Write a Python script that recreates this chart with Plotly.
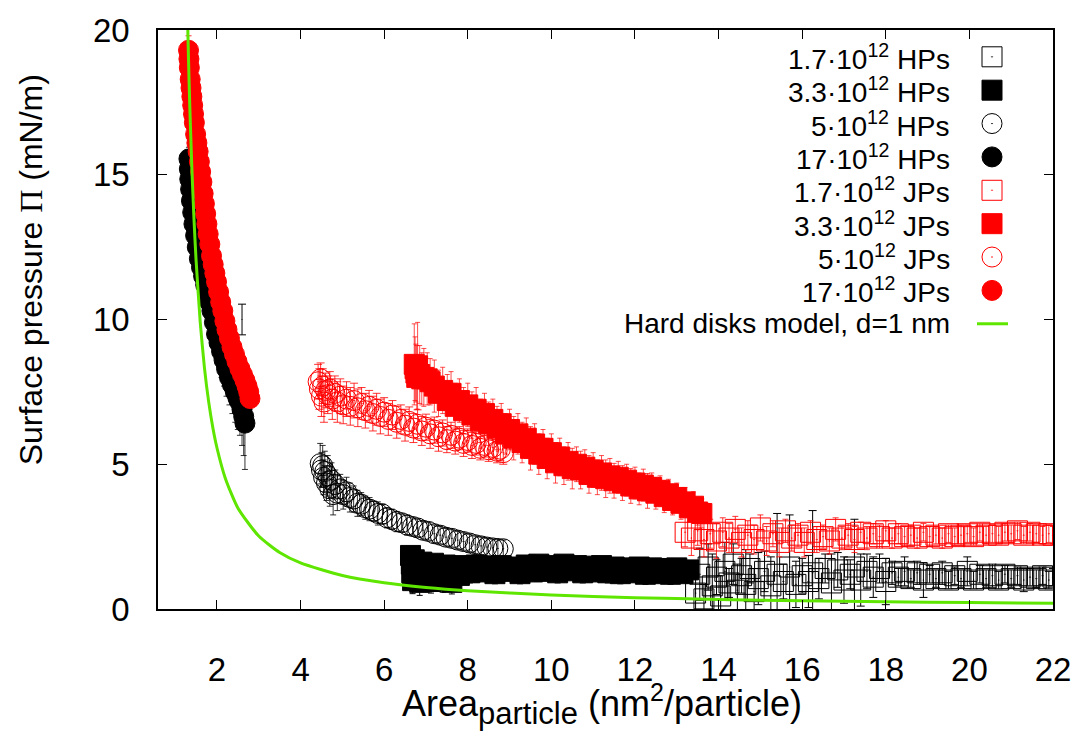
import plotly.graph_objects as go

# ---------------- data (area per particle in nm^2, surface pressure in mN/m) ----------------
# 1.7e12 HPs
hp1_x = [13.45, 13.55, 13.65, 13.75, 13.85, 13.95, 14.05, 14.15, 14.25, 14.35, 14.45, 14.55,
         14.65, 14.75, 14.85, 14.95, 15.10, 15.25, 15.40, 15.55, 15.70, 15.85, 16.00, 16.15,
         16.25, 16.40, 16.55, 16.70, 16.85, 17.00, 17.15, 17.25, 17.40, 17.55, 17.70, 17.85,
         18.00, 18.15, 18.30, 18.45, 18.60, 18.75, 18.90, 19.05, 19.20, 19.35, 19.50, 19.65,
         19.80, 19.95, 20.10, 20.25, 20.40, 20.55, 20.70, 20.85, 21.00, 21.15, 21.30, 21.45,
         21.60, 21.75, 21.90, 22.00]
hp1_y = [0.55, 1.20, 0.35, 1.45, 0.80, 1.10, 0.45, 1.30, 0.90, 1.55, 0.65, 1.15,
         0.85, 1.40, 0.60, 1.05, 1.30, 0.80, 1.20, 0.95, 1.45, 0.85, 1.15, 0.95,
         1.25, 1.05, 1.40, 0.90, 1.35, 1.00, 1.20, 1.45, 1.00, 1.30, 1.10, 1.40,
         0.95, 1.25, 1.10, 1.30, 1.05, 1.25, 1.00, 1.20, 1.05, 1.25, 1.00, 1.15,
         1.05, 1.30, 1.00, 1.20, 1.05, 1.15, 1.00, 1.20, 1.05, 1.15, 1.00, 1.10,
         1.05, 1.15, 1.00, 1.10]
hp1_e = [0.6, 0.9, 0.5, 0.8, 1.1, 0.6, 0.7, 1.0, 0.5, 0.7, 0.9, 0.6,
         1.2, 0.5, 0.8, 0.9, 0.7, 1.0, 2.1, 0.6, 1.8, 0.8, 0.6, 0.9,
         2.15, 0.7, 0.5, 1.0, 0.6, 0.8, 0.5, 1.65, 0.9, 0.6, 0.7, 0.5,
         0.8, 0.4, 0.3, 0.5, 0.3, 0.4, 0.6, 0.3, 0.3, 0.4, 0.3, 0.3,
         0.3, 0.5, 0.3, 0.3, 0.3, 0.4, 0.3, 0.3, 0.3, 0.3, 0.4, 0.3,
         0.3, 0.3, 0.3, 0.3]

# 3.3e12 HPs
hp3_x = [6.63, 6.65, 6.66, 6.68, 6.72, 6.76, 6.80, 6.85, 6.90, 6.95, 7.00, 7.06,
         7.12, 7.18, 7.25, 7.32, 7.40, 7.46, 7.54, 7.62, 7.70, 7.80,
         7.90, 8.05, 8.20, 8.35, 8.50, 8.65, 8.80, 8.95, 9.10, 9.25, 9.40, 9.55,
         9.70, 9.85, 10.00, 10.15, 10.30, 10.45, 10.60, 10.75, 10.90, 11.05, 11.20, 11.35,
         11.50, 11.65, 11.80, 11.95, 12.10, 12.25, 12.40, 12.55, 12.70, 12.85, 13.00, 13.15,
         13.28]
hp3_y = [1.85, 1.55, 1.25, 0.98, 1.70, 1.40, 1.10, 0.92, 1.62, 1.30, 1.00, 1.50,
         0.95, 1.58, 1.12, 1.42, 0.98, 1.52, 1.18, 0.92, 1.46, 1.16,
         1.50, 1.25, 1.52, 1.28, 1.48, 1.22, 1.50, 1.30, 1.45, 1.22, 1.52, 1.28,
         1.55, 1.30, 1.50, 1.25, 1.55, 1.32, 1.50, 1.25, 1.48, 1.28, 1.50, 1.25,
         1.45, 1.22, 1.42, 1.25, 1.45, 1.20, 1.42, 1.22, 1.40, 1.20, 1.42, 1.22,
         1.35]
hp3_e = [0.3, 0.3, 0.35, 0.45, 0.3, 0.3, 0.35, 0.45, 0.3, 0.3, 0.4, 0.3,
         0.4, 0.3, 0.35, 0.3, 0.4, 0.3, 0.35, 0.4, 0.3, 0.35,
         0.3, 0.35, 0.3, 0.3, 0.3, 0.35, 0.3, 0.3, 0.3, 0.35, 0.3, 0.3,
         0.3, 0.3, 0.3, 0.35, 0.3, 0.3, 0.3, 0.35, 0.3, 0.3, 0.3, 0.35,
         0.3, 0.35, 0.3, 0.3, 0.3, 0.35, 0.3, 0.3, 0.3, 0.35, 0.3, 0.3,
         0.3]

# 5e12 HPs
hp5_x = [4.47, 4.50, 4.53, 4.55, 4.58, 4.62, 4.65, 4.70, 4.74, 4.78, 4.83, 4.88,
         4.95, 5.02, 5.10, 5.18, 5.27, 5.36, 5.45, 5.55, 5.65, 5.75, 5.85, 5.96,
         6.07, 6.18, 6.30, 6.42, 6.55, 6.68, 6.80, 6.93, 7.06, 7.20, 7.34, 7.48,
         7.62, 7.76, 7.90, 8.04, 8.18, 8.32, 8.46, 8.60, 8.72, 8.85]
hp5_y = [5.02, 4.80, 4.95, 4.55, 4.75, 4.35, 4.60, 4.15, 4.45, 3.95, 4.30, 4.00,
         4.15, 3.95, 4.05, 3.85, 3.80, 3.65, 3.62, 3.50, 3.45, 3.38, 3.30, 3.28,
         3.15, 3.10, 3.02, 2.98, 2.90, 2.85, 2.80, 2.72, 2.68, 2.60, 2.55, 2.48,
         2.44, 2.38, 2.33, 2.28, 2.22, 2.18, 2.14, 2.11, 2.09, 2.08]
hp5_e = [0.7, 0.6, 0.7, 0.6, 0.7, 0.6, 0.7, 0.6, 0.6, 0.7, 0.5, 0.6,
         0.5, 0.5, 0.5, 0.5, 0.45, 0.45, 0.4, 0.4, 0.4, 0.35, 0.4, 0.35,
         0.35, 0.35, 0.35, 0.3, 0.35, 0.3, 0.3, 0.3, 0.3, 0.3, 0.3, 0.3,
         0.3, 0.3, 0.3, 0.3, 0.3, 0.3, 0.3, 0.3, 0.3, 0.3]

# 17e12 HPs
hp17_x = [1.33, 1.34, 1.35, 1.37, 1.39, 1.42, 1.45, 1.49, 1.53, 1.58, 1.63, 1.68,
          1.73, 1.78, 1.83, 1.88, 1.94, 1.99, 2.05, 2.11, 2.17, 2.23, 2.30, 2.37,
          2.44, 2.50, 2.55, 2.60, 2.64, 2.67]
hp17_y = [15.55, 15.20, 14.85, 14.50, 14.10, 13.70, 13.30, 12.90, 12.50, 12.10, 11.80, 11.50,
          11.20, 10.90, 10.60, 10.30, 9.90, 9.50, 9.20, 8.90, 8.60, 8.30, 8.00, 7.75,
          7.50, 7.30, 7.15, 6.90, 6.65, 6.42]
hp17_e = [0.4, 0.4, 0.45, 0.45, 0.5, 0.5, 0.55, 0.6, 0.6, 0.65, 0.65, 0.7,
          0.7, 0.75, 0.75, 0.8, 0.8, 0.85, 0.85, 0.9, 0.9, 0.95, 0.95, 1.0,
          1.05, 1.1, 1.15, 1.25, 1.35, 1.6]
hp17_bar_x = [2.60]
hp17_bar_y = [10.00]
hp17_bar_e = [0.53]

# 1.7e12 JPs
jp1_x = [13.20, 13.35, 13.50, 13.65, 13.80, 13.95, 14.10, 14.25, 14.40, 14.55, 14.70, 14.85,
         15.00, 15.15, 15.30, 15.45, 15.60, 15.75, 15.90, 16.05, 16.20, 16.35, 16.50, 16.65,
         16.80, 16.95, 17.10, 17.25, 17.40, 17.55, 17.70, 17.85, 18.00, 18.15, 18.30, 18.45,
         18.60, 18.75, 18.90, 19.05, 19.20, 19.35, 19.50, 19.65, 19.80, 19.95, 20.10, 20.25,
         20.40, 20.55, 20.70, 20.85, 21.00, 21.15, 21.30, 21.45, 21.60, 21.75, 21.90, 22.00]
jp1_y = [2.65, 2.45, 2.70, 2.40, 2.60, 2.35, 2.65, 2.45, 2.75, 2.30, 2.55, 2.40,
         2.80, 2.35, 2.60, 2.30, 2.70, 2.45, 2.55, 2.30, 2.65, 2.40, 2.50, 2.35,
         2.75, 2.45, 2.55, 2.40, 2.65, 2.45, 2.60, 2.50, 2.70, 2.45, 2.60, 2.50,
         2.55, 2.45, 2.65, 2.50, 2.55, 2.45, 2.60, 2.50, 2.55, 2.60, 2.50, 2.65,
         2.55, 2.60, 2.55, 2.65, 2.60, 2.70, 2.55, 2.65, 2.60, 2.55, 2.60, 2.55]
jp1_e = [0.5, 0.6, 0.5, 0.6, 0.5, 0.6, 0.5, 0.5, 0.45, 0.5, 0.5, 0.5,
         0.45, 0.5, 0.45, 0.5, 0.4, 0.45, 0.4, 0.5, 0.4, 0.45, 0.4, 0.45,
         0.4, 0.4, 0.4, 0.45, 0.35, 0.4, 0.35, 0.4, 0.35, 0.35, 0.35, 0.35,
         0.35, 0.35, 0.3, 0.35, 0.3, 0.35, 0.3, 0.3, 0.35, 0.3, 0.3, 0.3,
         0.3, 0.3, 0.3, 0.3, 0.3, 0.3, 0.3, 0.3, 0.3, 0.3, 0.3, 0.3]

# 3.3e12 JPs
jp3_x = [6.72, 6.74, 6.76, 6.78, 6.80, 6.85, 6.90, 6.95, 7.03, 7.10, 7.20, 7.30,
         7.40, 7.51, 7.60, 7.70, 7.80, 7.90, 8.00, 8.10, 8.20, 8.30, 8.40, 8.50,
         8.60, 8.70, 8.80, 8.90, 9.00, 9.10, 9.20, 9.30, 9.40, 9.50, 9.60, 9.70,
         9.80, 9.90, 10.00, 10.10, 10.20, 10.30, 10.40, 10.50, 10.60, 10.70, 10.80, 10.90,
         11.00, 11.10, 11.20, 11.30, 11.40, 11.50, 11.60, 11.70, 11.80, 11.90, 12.00, 12.10,
         12.20, 12.30, 12.40, 12.50, 12.60, 12.70, 12.80, 12.90, 13.00, 13.10, 13.20, 13.30,
         13.40, 13.50, 13.60]
jp3_y = [8.45, 8.30, 8.15, 8.00, 8.40, 8.10, 7.95, 8.00, 7.95, 7.85, 7.70, 7.45,
         7.55, 7.20, 7.45, 7.00, 7.20, 6.85, 7.05, 6.70, 6.90, 6.50, 6.75, 6.40,
         6.55, 6.25, 6.40, 6.05, 6.20, 5.90, 6.05, 5.75, 5.90, 5.55, 5.70, 5.35,
         5.55, 5.20, 5.40, 5.05, 5.25, 4.95, 5.10, 4.85, 5.00, 4.80, 4.90, 4.65,
         4.80, 4.55, 4.70, 4.50, 4.60, 4.43, 4.55, 4.35, 4.45, 4.25, 4.35, 4.15,
         4.28, 4.08, 4.20, 4.00, 4.10, 3.88, 3.98, 3.75, 3.85, 3.65, 3.70, 3.50,
         3.55, 3.35, 3.30]
jp3_e = [1.4, 1.1, 1.0, 1.1, 1.5, 1.0, 0.9, 1.0, 0.9, 0.8, 0.9, 0.8,
         0.8, 0.9, 0.75, 0.8, 0.75, 0.8, 0.75, 0.8, 0.75, 0.75, 0.7, 0.75,
         0.7, 0.75, 0.7, 0.7, 0.7, 0.75, 0.7, 0.7, 0.7, 0.75, 0.7, 0.7,
         0.65, 0.7, 0.65, 0.7, 0.65, 0.65, 0.65, 0.7, 0.6, 0.65, 0.6, 0.65,
         0.6, 0.6, 0.6, 0.65, 0.6, 0.6, 0.55, 0.6, 0.55, 0.6, 0.55, 0.55,
         0.55, 0.6, 0.5, 0.55, 0.5, 0.55, 0.5, 0.5, 0.5, 0.55, 0.5, 0.5,
         0.5, 0.45, 0.5]

# 5e12 JPs
jp5_x = [4.42, 4.45, 4.48, 4.50, 4.53, 4.56, 4.60, 4.65, 4.70, 4.76, 4.82, 4.88,
         4.95, 5.02, 5.10, 5.19, 5.28, 5.37, 5.46, 5.55, 5.64, 5.73, 5.82, 5.91,
         6.00, 6.10, 6.20, 6.30, 6.40, 6.50, 6.60, 6.70, 6.80, 6.90, 7.00, 7.10,
         7.20, 7.30, 7.40, 7.50, 7.60, 7.70, 7.80, 7.90, 8.00, 8.10, 8.20, 8.30,
         8.40, 8.50, 8.60, 8.70, 8.78, 8.85]
jp5_y = [7.85, 7.60, 7.95, 7.35, 7.70, 7.15, 7.55, 7.40, 7.60, 7.25, 7.45, 7.15,
         7.35, 7.05, 7.25, 7.00, 7.20, 6.95, 7.10, 6.85, 7.00, 6.75, 6.90, 6.65,
         6.80, 6.55, 6.70, 6.45, 6.55, 6.35, 6.48, 6.25, 6.38, 6.15, 6.28, 6.05,
         6.18, 5.95, 6.08, 5.85, 6.00, 5.80, 5.90, 5.72, 5.82, 5.65, 5.72, 5.55,
         5.65, 5.50, 5.58, 5.45, 5.52, 5.40]
jp5_e = [0.6, 0.7, 0.55, 0.7, 0.6, 0.7, 0.6, 0.65, 0.6, 0.7, 0.6, 0.7,
         0.6, 0.65, 0.6, 0.65, 0.6, 0.65, 0.55, 0.6, 0.55, 0.6, 0.55, 0.6,
         0.5, 0.55, 0.5, 0.55, 0.5, 0.55, 0.5, 0.5, 0.5, 0.5, 0.45, 0.5,
         0.45, 0.5, 0.45, 0.45, 0.45, 0.45, 0.4, 0.45, 0.4, 0.45, 0.4, 0.4,
         0.4, 0.4, 0.4, 0.4, 0.4, 0.4]

# 17e12 JPs
jp17_x = [1.32, 1.33, 1.34, 1.36, 1.38, 1.40, 1.42, 1.44, 1.46, 1.49, 1.52, 1.55,
          1.58, 1.61, 1.64, 1.67, 1.70, 1.73, 1.76, 1.79, 1.83, 1.87, 1.91, 1.95,
          1.99, 2.04, 2.09, 2.14, 2.19, 2.24, 2.30, 2.36, 2.42, 2.48, 2.55, 2.61,
          2.67, 2.72, 2.76, 2.79]
jp17_y = [19.30, 19.00, 18.70, 18.30, 18.00, 17.70, 17.40, 17.10, 16.80, 16.40, 16.10, 15.80,
          15.45, 15.10, 14.75, 14.35, 14.00, 13.65, 13.30, 12.95, 12.60, 12.20, 11.90, 11.60,
          11.30, 10.95, 10.60, 10.30, 9.95, 9.65, 9.35, 9.05, 8.80, 8.55, 8.30, 8.10,
          7.90, 7.70, 7.50, 7.27]
jp17_e = [0.5, 0.4, 0.4, 0.35, 0.35, 0.3, 0.3, 0.3, 0.3, 0.3, 0.3, 0.3,
          0.3, 0.3, 0.3, 0.3, 0.3, 0.3, 0.3, 0.3, 0.3, 0.3, 0.3, 0.3,
          0.3, 0.3, 0.3, 0.3, 0.3, 0.3, 0.3, 0.3, 0.3, 0.3, 0.3, 0.3,
          0.3, 0.3, 0.3, 0.3]

# hard disks model, d = 1 nm
hd_x = [1.30, 1.32, 1.35, 1.40, 1.45, 1.50, 1.60, 1.70, 1.80, 1.90, 2.00, 2.20,
        2.50, 3.00, 3.50, 4.00, 5.00, 6.00, 7.00, 8.00, 10.0, 12.0, 14.0, 16.0,
        18.0, 20.0, 22.0]
hd_y = [20.2, 18.98, 17.38, 15.23, 13.50, 12.07, 9.91, 8.35, 7.18, 6.28, 5.57, 4.52,
        3.49, 2.52, 1.95, 1.59, 1.157, 0.907, 0.745, 0.632, 0.484, 0.392, 0.330, 0.284,
        0.250, 0.223, 0.201]

legend_labels = [
    "1.7·10<sup>12</sup> HPs", "3.3·10<sup>12</sup> HPs", "5·10<sup>12</sup> HPs",
    "17·10<sup>12</sup> HPs", "1.7·10<sup>12</sup> JPs", "3.3·10<sup>12</sup> JPs",
    "5·10<sup>12</sup> JPs", "17·10<sup>12</sup> JPs", "Hard disks model, d=1 nm",
]
x_ticks = [2, 4, 6, 8, 10, 12, 14, 16, 18, 20, 22]
y_ticks = [0, 5, 10, 15, 20]

# ---------------- styling ----------------
BLACK = "#000000"
RED = "#ff0000"
GREEN = "#5fe600"
FONT = "Liberation Sans, Arial, Helvetica, sans-serif"
MS = 20

W, H = 1084, 735
PL, PR, PT, PB = 158, 1053, 26, 609   # plot frame in pixels

styles = [
    # (x, y, err, color, symbol, cap half-width, bar thickness)
    (hp1_x, hp1_y, hp1_e, BLACK, "square-open-dot", 4, 1),
    (hp3_x, hp3_y, hp3_e, BLACK, "square", 3, 1),
    (hp5_x, hp5_y, hp5_e, BLACK, "circle-open-dot", 3, 0.8),
    (hp17_x, hp17_y, hp17_e, BLACK, "circle", 3, 0.8),
    (jp1_x, jp1_y, jp1_e, RED, "square-open-dot", 3, 0.8),
    (jp3_x, jp3_y, jp3_e, RED, "square", 2.5, 0.7),
    (jp5_x, jp5_y, jp5_e, RED, "circle-open-dot", 4, 0.8),
    (jp17_x, jp17_y, jp17_e, RED, "circle", 3, 0.8),
]

fig = go.Figure()

for i, (xs, ys, es, col, sym, cap, thk) in enumerate(styles):
    fig.add_trace(go.Scatter(
        x=xs, y=ys, mode="markers", showlegend=False,
        marker=dict(symbol=sym, size=MS, color=col, line=dict(color=col, width=1)),
        error_y=dict(type="data", array=es, color=col, thickness=thk, width=cap),
    ))
    if i == 3:
        # single bar of the 17e12 HPs run
        fig.add_trace(go.Scatter(
            x=hp17_bar_x, y=hp17_bar_y, mode="markers", showlegend=False,
            marker=dict(symbol="circle", size=1, color=BLACK),
            error_y=dict(type="data", array=hp17_bar_e, color=BLACK, thickness=1, width=4),
        ))

fig.add_trace(go.Scatter(
    x=hd_x, y=hd_y, mode="lines", showlegend=False,
    line=dict(color=GREEN, width=3, shape="spline", smoothing=0.6),
))

# ---------------- key (drawn on a pixel-space overlay axis) ----------------
key_x_text = 952
key_x_sym = 992
key_y0 = 53
key_dy = 33.6
for i, lab in enumerate(legend_labels):
    yy = key_y0 + i * key_dy
    fig.add_annotation(
        x=key_x_text, y=yy, xref="x2", yref="y2", text=lab, showarrow=False,
        xanchor="right", yanchor="middle", font=dict(family=FONT, size=28, color="black"),
    )
    if i < len(styles):
        col, sym = styles[i][3], styles[i][4]
        fig.add_trace(go.Scatter(
            x=[key_x_sym], y=[yy], xaxis="x2", yaxis="y2", mode="markers", showlegend=False,
            marker=dict(symbol=sym, size=MS, color=col, line=dict(color=col, width=1)),
        ))
    else:
        fig.add_trace(go.Scatter(
            x=[key_x_sym - 15, key_x_sym + 16], y=[yy, yy], xaxis="x2", yaxis="y2",
            mode="lines", showlegend=False, line=dict(color=GREEN, width=3),
        ))


def px_paper(px, py):
    return (px - PL) / (PR - PL), (PB - py) / (PB - PT)


# axis titles
tx, ty = px_paper(602, 705)
fig.add_annotation(
    x=tx, y=ty, xref="paper", yref="paper", showarrow=False,
    text=("Area<sub><span style='font-size:31px'>particle</span></sub> "
          "(nm<sup><span style='font-size:25px'>2</span></sup>/particle)"),
    font=dict(family=FONT, size=36, color="black"), xanchor="center", yanchor="middle",
)
tx, ty = px_paper(31, 268)
fig.add_annotation(
    x=tx, y=ty, xref="paper", yref="paper", showarrow=False, textangle=-90,
    text="Surface pressure <span style='font-family:Liberation Serif'>Π</span> (mN/m)",
    font=dict(family=FONT, size=32, color="black"), xanchor="center", yanchor="middle",
)

axis_common = dict(
    showgrid=False, zeroline=False, showline=True, linecolor="black", linewidth=1.5,
    mirror="ticks", ticks="inside", ticklen=9, tickwidth=1, tickcolor="black",
    tickfont=dict(family=FONT, size=33, color="black"),
)

fig.update_layout(
    width=W, height=H,
    margin=dict(l=PL, r=W - PR, t=PT, b=H - PB, pad=0),
    paper_bgcolor="white", plot_bgcolor="white",
    showlegend=False,
    xaxis=dict(range=[0.59, 22], tickvals=x_ticks, ticklabelstandoff=31, **axis_common),
    yaxis=dict(range=[0, 20], tickvals=y_ticks, ticklabelstandoff=20, **axis_common),
    xaxis2=dict(overlaying="x", anchor="y2", range=[PL, PR], visible=False, fixedrange=True),
    yaxis2=dict(overlaying="y", anchor="x2", range=[PB, PT], visible=False, fixedrange=True),
)

fig.write_html("out.html")
